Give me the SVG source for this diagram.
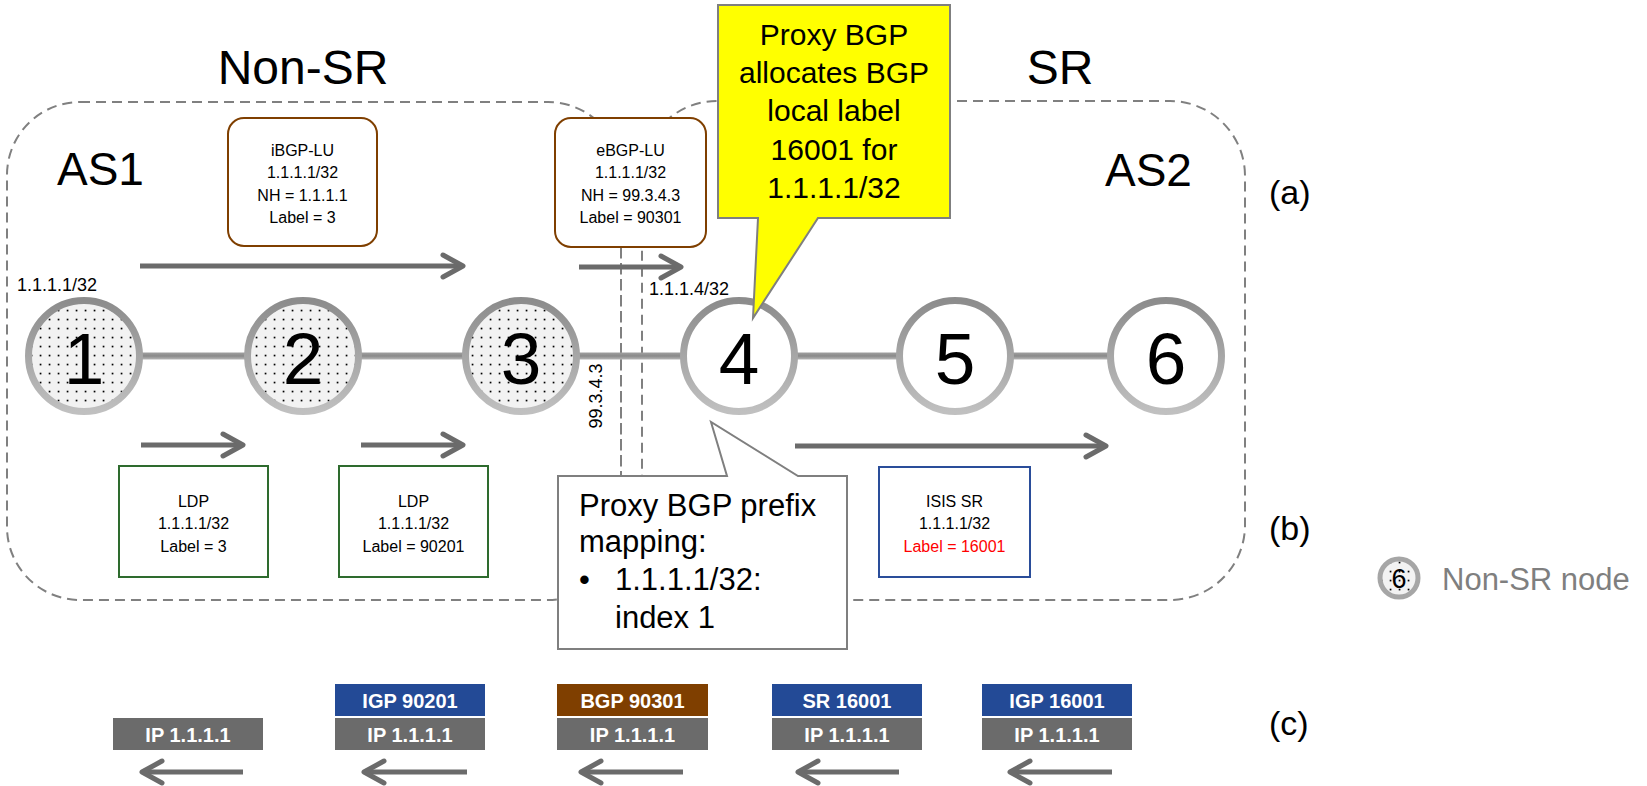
<svg xmlns="http://www.w3.org/2000/svg" width="1647" height="786" viewBox="0 0 1647 786">
<style>
.t{font-family:"Liberation Sans",Arial,sans-serif;fill:#000}
.title{font-size:48px;text-anchor:middle}
.as{font-size:46px}
.lbl{font-size:34px}
.sm{font-size:18px}
.bt{font-size:16px;text-anchor:middle}
.num{font-size:73px;text-anchor:middle}
.big{font-size:30px}
.pbig{font-size:31px}
.region{fill:none;stroke:#808080;stroke-width:2;stroke-dasharray:10,6}
.bgp{fill:#fff;stroke:#7f3f00;stroke-width:2}
.ldp{fill:#fff;stroke:#2e6b2e;stroke-width:2}
.isis{fill:#fff;stroke:#2a4d9a;stroke-width:2}
.nsr{fill:url(#dots);stroke:url(#ring);stroke-width:7}
.sr{fill:#fff;stroke:url(#ring);stroke-width:7}
.arr{stroke:#6b6b6b;stroke-width:5;fill:none;marker-end:url(#ah)}
.link{fill:url(#bar)}
.lab{font-family:"Liberation Sans",Arial,sans-serif;font-weight:bold;font-size:20px;fill:#fff;text-anchor:middle}
.ip{fill:#6b6b6b}
.blue{fill:#234a96}
.brown{fill:#7f3f00}
.call{stroke:#7f7f7f;stroke-width:2}
</style>
<defs>
<pattern id="dots" width="9" height="9" patternUnits="userSpaceOnUse">
<rect width="9" height="9" fill="#f2f2f2"/>
<rect x="3.7" y="3.7" width="1.7" height="1.7" fill="#000"/>
</pattern>
<linearGradient id="ring" x1="0" y1="0" x2="0" y2="1">
<stop offset="0" stop-color="#8c8c8c"/>
<stop offset="1" stop-color="#c0c0c0"/>
</linearGradient>
<linearGradient id="bar" x1="0" y1="0" x2="0" y2="1">
<stop offset="0" stop-color="#a0a0a0"/>
<stop offset="0.5" stop-color="#8a8a8a"/>
<stop offset="1" stop-color="#b8b8b8"/>
</linearGradient>
<marker id="ah" markerUnits="userSpaceOnUse" markerWidth="30" markerHeight="30" refX="0" refY="0" orient="auto" overflow="visible">
<path d="M-20,-11 L0,0 L-20,11" fill="none" stroke="#6b6b6b" stroke-width="5" stroke-linecap="round" stroke-linejoin="round"/>
</marker>
</defs>
<rect width="1647" height="786" fill="#fff"/>

<g id="regions">
<rect class="region" x="7" y="102" width="614" height="498" rx="73"/>
<rect class="region" x="642" y="101" width="603" height="499" rx="75"/>
<line class="region" x1="621" y1="247" x2="621" y2="476"/>
</g>

<g id="titles">
<text class="t title" x="303" y="84">Non-SR</text>
<text class="t title" x="1060" y="84">SR</text>
<text class="t as" x="57" y="185">AS1</text>
<text class="t as" x="1105" y="186">AS2</text>
<text class="t lbl" x="1269" y="204">(a)</text>
<text class="t lbl" x="1269" y="540">(b)</text>
<text class="t lbl" x="1269" y="735">(c)</text>
<text class="t sm" x="17" y="291">1.1.1.1/32</text>
<text class="t sm" x="649" y="295">1.1.1.4/32</text>
<text class="t sm" transform="translate(602,396) rotate(-90)" text-anchor="middle">99.3.4.3</text>
</g>

<g id="connectors">
<rect class="link" x="135" y="352.5" width="120" height="7"/>
<rect class="link" x="354" y="352.5" width="120" height="7"/>
<rect class="link" x="572" y="352.5" width="120" height="7"/>
<rect class="link" x="790" y="352.5" width="120" height="7"/>
<rect class="link" x="1006" y="352.5" width="112" height="7"/>
<line class="arr" x1="140" y1="266" x2="463" y2="266"/>
<line class="arr" x1="579" y1="267" x2="681" y2="267"/>
<line class="arr" x1="141" y1="445" x2="243" y2="445"/>
<line class="arr" x1="361" y1="445" x2="463" y2="445"/>
<line class="arr" x1="795" y1="446" x2="1106" y2="446"/>
<line class="arr" x1="243" y1="772" x2="142" y2="772"/>
<line class="arr" x1="467" y1="772" x2="364" y2="772"/>
<line class="arr" x1="683" y1="772" x2="581" y2="772"/>
<line class="arr" x1="899" y1="772" x2="798" y2="772"/>
<line class="arr" x1="1112" y1="772" x2="1010" y2="772"/>
</g>

<g id="node1"><circle class="nsr" cx="84" cy="356" r="55.5"/><text class="t num" x="84" y="384">1</text></g>
<g id="node2"><circle class="nsr" cx="303" cy="356" r="55.5"/><text class="t num" x="303" y="384">2</text></g>
<g id="node3"><circle class="nsr" cx="521" cy="356" r="55.5"/><text class="t num" x="521" y="384">3</text></g>
<g id="node4"><circle class="sr" cx="739" cy="356" r="55.5"/><text class="t num" x="739" y="384">4</text></g>
<g id="node5"><circle class="sr" cx="955" cy="356" r="55.5"/><text class="t num" x="955" y="384">5</text></g>
<g id="node6"><circle class="sr" cx="1166" cy="356" r="55.5"/><text class="t num" x="1166" y="384">6</text></g>

<g id="ibgp">
<rect class="bgp" x="228" y="118" width="149" height="128" rx="16"/>
<text class="t bt" x="302.5" y="156">iBGP-LU</text>
<text class="t bt" x="302.5" y="178">1.1.1.1/32</text>
<text class="t bt" x="302.5" y="201">NH = 1.1.1.1</text>
<text class="t bt" x="302.5" y="223">Label = 3</text>
</g>
<g id="ebgp">
<rect class="bgp" x="555" y="118" width="151" height="129" rx="16"/>
<text class="t bt" x="630.5" y="156">eBGP-LU</text>
<text class="t bt" x="630.5" y="178">1.1.1.1/32</text>
<text class="t bt" x="630.5" y="201">NH = 99.3.4.3</text>
<text class="t bt" x="630.5" y="223">Label = 90301</text>
</g>
<g id="ldp1">
<rect class="ldp" x="119" y="466" width="149" height="111"/>
<text class="t bt" x="193.5" y="507">LDP</text>
<text class="t bt" x="193.5" y="529">1.1.1.1/32</text>
<text class="t bt" x="193.5" y="552">Label = 3</text>
</g>
<g id="ldp2">
<rect class="ldp" x="339" y="466" width="149" height="111"/>
<text class="t bt" x="413.5" y="507">LDP</text>
<text class="t bt" x="413.5" y="529">1.1.1.1/32</text>
<text class="t bt" x="413.5" y="552">Label = 90201</text>
</g>
<g id="isis">
<rect class="isis" x="879" y="467" width="151" height="110"/>
<text class="t bt" x="954.5" y="507">ISIS SR</text>
<text class="t bt" x="954.5" y="529">1.1.1.1/32</text>
<text class="t bt" x="954.5" y="552" style="fill:#ff0000">Label = 16001</text>
</g>

<g id="yellow-callout">
<path class="call" fill="#ffff00" d="M718,5 L950,5 L950,218 L818,218 L753,318 L758,218 L718,218 Z"/>
<text class="t big" text-anchor="middle" x="834" y="45">Proxy BGP</text>
<text class="t big" text-anchor="middle" x="834" y="83">allocates BGP</text>
<text class="t big" text-anchor="middle" x="834" y="121">local label</text>
<text class="t big" text-anchor="middle" x="834" y="160">16001 for</text>
<text class="t big" text-anchor="middle" x="834" y="198">1.1.1.1/32</text>
</g>

<g id="proxy-callout">
<path class="call" fill="#fff" d="M558,476 L727,476 L711,422 L798,476 L847,476 L847,649 L558,649 Z"/>
<text class="t pbig" x="579" y="516">Proxy BGP prefix</text>
<text class="t pbig" x="579" y="552">mapping:</text>
<text class="t pbig" x="579" y="590">•</text>
<text class="t pbig" x="615" y="590">1.1.1.1/32:</text>
<text class="t pbig" x="615" y="628">index 1</text>
</g>

<g id="stack1">
<rect class="ip" x="113" y="718" width="150" height="32"/>
<text class="lab" x="188" y="742">IP 1.1.1.1</text>
</g>
<g id="stack2">
<rect class="blue" x="335" y="684" width="150" height="32"/>
<text class="lab" x="410" y="708">IGP 90201</text>
<rect class="ip" x="335" y="718" width="150" height="32"/>
<text class="lab" x="410" y="742">IP 1.1.1.1</text>
</g>
<g id="stack3">
<rect class="brown" x="557" y="684" width="151" height="32"/>
<text class="lab" x="632.5" y="708">BGP 90301</text>
<rect class="ip" x="557" y="718" width="151" height="32"/>
<text class="lab" x="632.5" y="742">IP 1.1.1.1</text>
</g>
<g id="stack4">
<rect class="blue" x="772" y="684" width="150" height="32"/>
<text class="lab" x="847" y="708">SR 16001</text>
<rect class="ip" x="772" y="718" width="150" height="32"/>
<text class="lab" x="847" y="742">IP 1.1.1.1</text>
</g>
<g id="stack5">
<rect class="blue" x="982" y="684" width="150" height="32"/>
<text class="lab" x="1057" y="708">IGP 16001</text>
<rect class="ip" x="982" y="718" width="150" height="32"/>
<text class="lab" x="1057" y="742">IP 1.1.1.1</text>
</g>

<g id="legend">
<circle cx="1399" cy="578" r="19" fill="url(#dots)" stroke="#a6a6a6" stroke-width="5"/>
<text class="t" x="1399" y="588" font-size="27" text-anchor="middle">6</text>
<text class="t" x="1442" y="590" font-size="31" style="fill:#7f7f7f">Non-SR node</text>
</g>
</svg>
